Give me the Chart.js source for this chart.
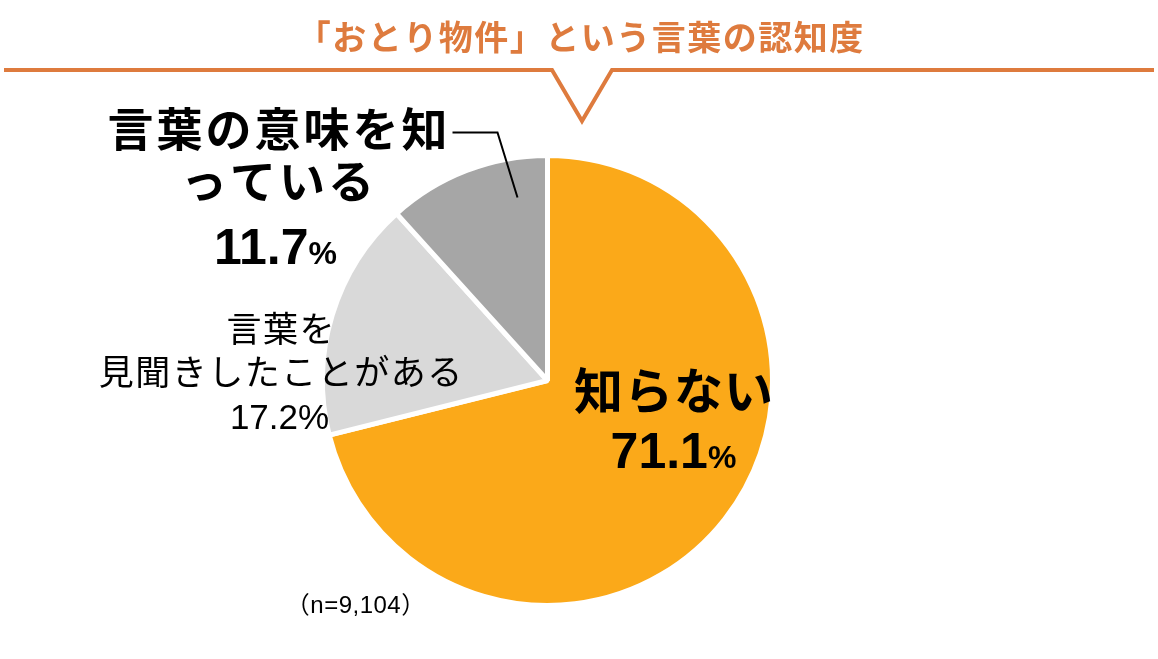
<!DOCTYPE html>
<html lang="ja">
<head>
<meta charset="utf-8">
<title>「おとり物件」という言葉の認知度</title>
<script src="https://cdn.jsdelivr.net/npm/chart.js@4.4.1/dist/chart.umd.min.js"></script>
<style>
  html, body { margin: 0; padding: 0; background: #fff; }
  #wrap { position: relative; width: 1158px; height: 659px; }
</style>
</head>
<body>
<div id="wrap"><canvas id="ninchido" width="1158" height="659"></canvas></div>
<script>
// データ
const chartTitle = '「おとり物件」という言葉の認知度'
const categories = ['知らない', '言葉を見聞きしたことがある', '言葉の意味を知っている']
const shares = [71.1, 17.2, 11.7]
const labelLines = [['知らない'], ['言葉を', '見聞きしたことがある'], ['言葉の意味を知', 'っている']]
const sampleSize = 9104

const sliceColors = ['#FBA919', '#D9D9D9', '#A6A6A6']
const accent = '#DE7B3E'
const JP = "'Noto Sans CJK JP'"
const LAT = "'Liberation Sans', 'Noto Sans CJK JP'"

// 文字列を中央揃えで描く（フォント違いの連結用）
function drawRuns(ctx, runs, cx, y) {
	let total = 0
	runs.forEach(r => {
		ctx.font = r.font
		ctx.letterSpacing = (r.spacing || 0) + 'px'
		r.w = ctx.measureText(r.text).width - (r.spacing || 0)
		total += r.w
	})
	let x = cx - total / 2
	ctx.textAlign = 'left'
	ctx.textBaseline = 'alphabetic'
	runs.forEach(r => {
		ctx.font = r.font
		ctx.letterSpacing = (r.spacing || 0) + 'px'
		ctx.fillText(r.text, x, y)
		x += r.w
	})
	ctx.letterSpacing = '0px'
}

const pct = v => v.toFixed(1)

const labelPlugin = {
	id: 'labelPlugin',
	afterDraw(chart) {
		const ctx = chart.ctx
		const arc = chart.getDatasetMeta(0).data[0]
		const cx = arc.x, cy = arc.y
		ctx.save()

		// タイトルと吹き出し線
		ctx.fillStyle = accent
		drawRuns(ctx, [{ text: chartTitle, font: `bold 34px ${JP}`, spacing: 1.5 }], 580, 50)
		ctx.strokeStyle = accent
		ctx.lineWidth = 4
		ctx.lineJoin = 'miter'
		ctx.beginPath()
		ctx.moveTo(4, 70)
		ctx.lineTo(552, 70)
		ctx.lineTo(582, 121)
		ctx.lineTo(612, 70)
		ctx.lineTo(1154, 70)
		ctx.stroke()

		ctx.fillStyle = '#000'

		// 知らない
		drawRuns(ctx, [{ text: labelLines[0][0], font: `bold 49px ${JP}`, spacing: 1 }], cx + 126, cy + 28)
		drawRuns(ctx, [
			{ text: pct(shares[0]), font: `bold 50px ${LAT}` },
			{ text: '%', font: `bold 32px ${LAT}` },
		], cx + 126, cy + 87)

		// 言葉を見聞きしたことがある
		drawRuns(ctx, [{ text: labelLines[1][0], font: `35px ${JP}`, spacing: 1.5 }], cx - 267, cy - 39)
		drawRuns(ctx, [{ text: labelLines[1][1], font: `35px ${JP}`, spacing: 1.5 }], cx - 267, cy + 4)
		drawRuns(ctx, [{ text: pct(shares[1]) + '%', font: `35px ${LAT}` }], cx - 268, cy + 48)

		// 言葉の意味を知っている
		drawRuns(ctx, [{ text: labelLines[2][0], font: `bold 46px ${JP}`, spacing: 3 }], cx - 270, cy - 235)
		drawRuns(ctx, [{ text: labelLines[2][1], font: `bold 46px ${JP}`, spacing: 3 }], cx - 270, cy - 183)
		drawRuns(ctx, [
			{ text: pct(shares[2]), font: `bold 50px ${LAT}` },
			{ text: '%', font: `bold 32px ${LAT}` },
		], cx - 272, cy - 117)

		// 引き出し線
		ctx.strokeStyle = '#000'
		ctx.lineWidth = 2
		ctx.beginPath()
		ctx.moveTo(cx - 95, cy - 248)
		ctx.lineTo(cx - 50, cy - 248)
		ctx.lineTo(cx - 30, cy - 183)
		ctx.stroke()

		// サンプル数
		drawRuns(ctx, [{ text: '（n=' + sampleSize.toLocaleString('en-US') + '）', font: `24px ${LAT}`, spacing: 0.5 }], cx - 192, cy + 232)

		ctx.restore()
	},
}

const ctx = document.getElementById('ninchido').getContext('2d')
new Chart(ctx, {
	type: 'pie',
	data: {
		labels: categories,
		datasets: [
			{
				data: shares,
				backgroundColor: sliceColors,
				borderColor: '#fff',
				borderWidth: 5,
			},
		],
	},
	options: {
		responsive: false,
		animation: false,
		layout: {
			padding: { top: 153, bottom: 51, left: 320, right: 383 },
		},
		plugins: {
			legend: { display: false },
			tooltip: { enabled: false },
			title: { display: false },
		},
	},
	plugins: [labelPlugin],
})
</script>
</body>
</html>
